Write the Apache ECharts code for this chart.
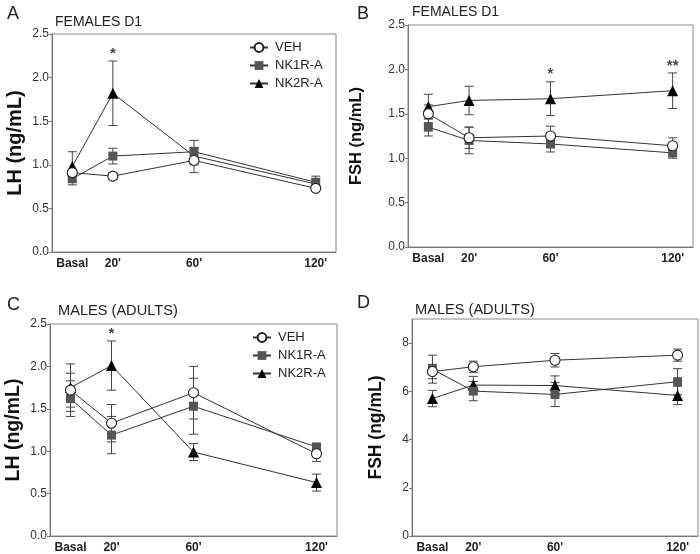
<!DOCTYPE html>
<html><head><meta charset="utf-8">
<script src="https://cdn.jsdelivr.net/npm/echarts@6/dist/echarts.min.js"></script>
<style>html,body{margin:0;padding:0;background:#fff}#c{width:700px;height:554px}</style>
</head><body><div id="c"></div>
<script>
// ---------- data ----------
const times = [0, 20, 60, 120];
const timeLabels = ['Basal', "20'", "60'", "120'"];
const seriesNames = ['VEH', 'NK1R-A', 'NK2R-A'];

// Panel A: LH, FEMALES D1
const A_VEH = [0.91, 0.87, 1.05, 0.73];
const A_VEH_err = [0.04, 0.04, 0.14, 0.03];
const A_NK1 = [0.84, 1.10, 1.15, 0.80];
const A_NK1_err = [0.07, 0.09, 0.13, 0.07];
const A_NK2 = [0.98, 1.82, 1.10, 0.78];
const A_NK2_err = [0.17, 0.37, 0.10, 0.05];
const A_sig = ['', '*', '', ''];

// Panel B: FSH, FEMALES D1
const B_VEH = [1.50, 1.23, 1.25, 1.14];
const B_VEH_err = [0.10, 0.12, 0.11, 0.09];
const B_NK1 = [1.35, 1.20, 1.16, 1.06];
const B_NK1_err = [0.10, 0.15, 0.09, 0.06];
const B_NK2 = [1.58, 1.65, 1.67, 1.76];
const B_NK2_err = [0.14, 0.16, 0.19, 0.20];
const B_sig = ['', '', '*', '**'];

// Panel C: LH, MALES (ADULTS)
const C_VEH = [1.72, 1.33, 1.69, 0.97];
const C_VEH_err = [0.20, 0.22, 0.31, 0.09];
const C_NK1 = [1.62, 1.19, 1.53, 1.05];
const C_NK1_err = [0.21, 0.22, 0.33, 0.04];
const C_NK2 = [1.75, 2.01, 0.99, 0.63];
const C_NK2_err = [0.28, 0.29, 0.10, 0.10];
const C_sig = ['', '*', '', ''];

// Panel D: FSH, MALES (ADULTS)
const D_VEH = [6.82, 7.02, 7.29, 7.50];
const D_VEH_err = [0.30, 0.23, 0.28, 0.25];
const D_NK1 = [6.92, 6.01, 5.87, 6.40];
const D_NK1_err = [0.58, 0.40, 0.50, 0.54];
const D_NK2 = [5.70, 6.26, 6.24, 5.83];
const D_NK2_err = [0.34, 0.36, 0.40, 0.38];
const D_sig = ['', '', '', ''];

// ---------- chart ----------
const FONT = '"Liberation Sans", Arial, sans-serif';
const chart = echarts.init(document.getElementById('c'));

const panels = [
  {grid: {left: 52, top: 34, width: 284, height: 218}, yMax: 2.5, yInt: 0.5, dec: 1, yName: 'LH (ng/mL)', gap: 27, nameSize: 20,
   data: [A_VEH, A_NK1, A_NK2], err: [A_VEH_err, A_NK1_err, A_NK2_err], sig: A_sig},
  {grid: {left: 408, top: 25, width: 285, height: 222}, yMax: 2.5, yInt: 0.5, dec: 1, yName: 'FSH (ng/mL)', gap: 43, nameSize: 16.5,
   data: [B_VEH, B_NK1, B_NK2], err: [B_VEH_err, B_NK1_err, B_NK2_err], sig: B_sig},
  {grid: {left: 50, top: 324, width: 287, height: 218}, yMax: 2.5, yInt: 0.5, dec: 1, yName: 'LH (ng/mL)', gap: 26, nameSize: 19.5,
   data: [C_VEH, C_NK1, C_NK2], err: [C_VEH_err, C_NK1_err, C_NK2_err], sig: C_sig},
  {grid: {left: 412, top: 319, width: 286, height: 221}, yMax: 9, yInt: 2, dec: 0, yName: 'FSH (ng/mL)', gap: 27, nameSize: 17.5,
   data: [D_VEH, D_NK1, D_NK2], err: [D_VEH_err, D_NK1_err, D_NK2_err], sig: D_sig}
];

const styles = [
  {symbol: 'circle', symbolSize: 10, itemStyle: {color: '#fff', borderColor: '#222', borderWidth: 1.1}},
  {symbol: 'rect', symbolSize: 9, itemStyle: {color: '#555', borderColor: '#555', borderWidth: 0}},
  {symbol: 'triangle', symbolSize: 11, itemStyle: {color: '#000', borderColor: '#000', borderWidth: 0}}
];

function errRender(params, api) {
  const x = api.value(0), y = api.value(1), e = api.value(2);
  const hi = api.coord([x, y + e]), lo = api.coord([x, y - e]);
  const w = 4.5;
  const st = {stroke: '#444', lineWidth: 1};
  return {type: 'group', children: [
    {type: 'line', shape: {x1: hi[0], y1: hi[1], x2: lo[0], y2: lo[1]}, style: st},
    {type: 'line', shape: {x1: hi[0] - w, y1: hi[1], x2: hi[0] + w, y2: hi[1]}, style: st},
    {type: 'line', shape: {x1: lo[0] - w, y1: lo[1], x2: lo[0] + w, y2: lo[1]}, style: st}
  ]};
}

const grids = [], xAxes = [], yAxes = [], series = [];
panels.forEach((p, i) => {
  grids.push(Object.assign({show: true, borderColor: '#888', borderWidth: 1, backgroundColor: 'transparent'}, p.grid));
  xAxes.push({
    type: 'value', gridIndex: i, min: -10, max: 130,
    axisLine: {show: true, lineStyle: {color: '#777'}},
    axisTick: {show: false}, splitLine: {show: false},
    axisLabel: {customValues: times, margin: 6, fontFamily: FONT, fontWeight: 'bold', fontSize: 12, color: '#222',
      formatter: v => timeLabels[times.indexOf(v)]}
  });
  yAxes.push({
    type: 'value', gridIndex: i, min: 0, max: p.yMax, interval: p.yInt,
    name: p.yName, nameLocation: 'middle', nameGap: p.gap,
    nameTextStyle: {fontFamily: FONT, fontWeight: 'bold', fontSize: p.nameSize, color: '#111'},
    axisLine: {show: true, onZero: false, lineStyle: {color: '#777'}},
    axisTick: {show: true, length: 3, lineStyle: {color: '#777'}},
    splitLine: {show: false},
    axisLabel: {margin: 3, fontFamily: FONT, fontSize: 12, color: '#333', showMaxLabel: p.dec ? true : false,
      formatter: v => p.dec ? v.toFixed(1) : (v % 2 === 0 ? String(v) : '')}
  });
  // error bars
  [2, 1, 0].forEach(k => {
    series.push({
      type: 'custom', xAxisIndex: i, yAxisIndex: i, renderItem: errRender, z: 1, silent: true,
      encode: {x: 0, y: 1},
      data: times.map((t, j) => [t, p.data[k][j], p.err[k][j]])
    });
  });
  // lines (draw NK2R, NK1R, then VEH on top)
  [2, 1, 0].forEach(k => {
    series.push(Object.assign({
      type: 'line', name: seriesNames[k], xAxisIndex: i, yAxisIndex: i, z: 3 + (2 - k),
      lineStyle: {color: '#333', width: 1}, emphasis: {disabled: true},
      data: times.map((t, j) => [t, p.data[k][j]])
    }, styles[k]));
  });
  // significance marks above NK2R error bar
  series.push({
    type: 'scatter', xAxisIndex: i, yAxisIndex: i, symbolSize: 0, z: 6,
    label: {show: true, position: 'top', distance: 0, formatter: d => d.name,
      fontFamily: FONT, fontSize: 15, fontWeight: 'bold', color: '#111'},
    data: times.map((t, j) => ({name: p.sig[j], value: [t, p.data[2][j] + p.err[2][j]]})).filter(d => d.name)
  });
});

const legendCommon = {
  orient: 'vertical', itemWidth: 18, itemHeight: 11, itemGap: 5,
  data: seriesNames, selectedMode: false,
  textStyle: {fontFamily: FONT, fontSize: 13, color: '#222', padding: [0, 0, 0, 2]}
};

const titleStyle = {fontFamily: FONT, fontWeight: 'normal', color: '#222'};
const option = {
  animation: false,
  backgroundColor: '#fff',
  title: [
    {text: 'A', left: 2, top: 0, textStyle: Object.assign({fontSize: 18}, titleStyle)},
    {text: 'B', left: 352, top: 0, textStyle: Object.assign({fontSize: 18}, titleStyle)},
    {text: 'C', left: 2, top: 291, textStyle: Object.assign({fontSize: 18}, titleStyle)},
    {text: 'D', left: 352, top: 289, textStyle: Object.assign({fontSize: 18}, titleStyle)},
    {text: 'FEMALES D1', left: 50, top: 10, textStyle: Object.assign({fontSize: 14}, titleStyle)},
    {text: 'FEMALES D1', left: 407, top: 0, textStyle: Object.assign({fontSize: 14}, titleStyle)},
    {text: 'MALES (ADULTS)', left: 53, top: 298, textStyle: Object.assign({fontSize: 14.6}, titleStyle)},
    {text: 'MALES (ADULTS)', left: 410, top: 297, textStyle: Object.assign({fontSize: 14.6}, titleStyle)}
  ],
  legend: [
    Object.assign({left: 244, top: 36}, legendCommon),
    Object.assign({left: 247, top: 326}, legendCommon)
  ],
  grid: grids, xAxis: xAxes, yAxis: yAxes, series: series
};
chart.setOption(option);
</script></body></html>
